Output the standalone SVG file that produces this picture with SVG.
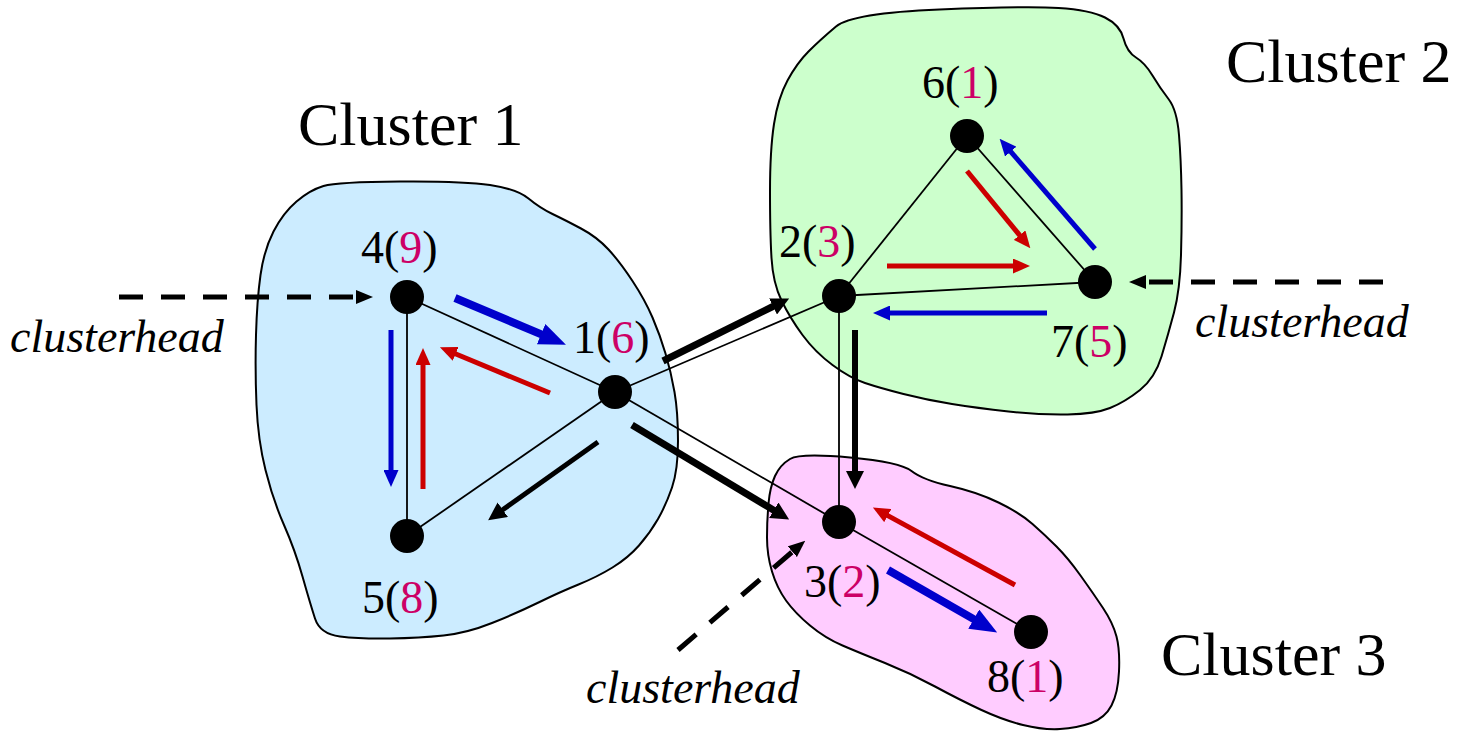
<svg xmlns="http://www.w3.org/2000/svg" width="1465" height="733" viewBox="0 0 1465 733">
  <style>
    .blob { stroke: #000; stroke-width: 2; stroke-linejoin: round; }
    .edge { stroke: #000; stroke-width: 1.8; fill: none; }
    .node { fill: #000; }
    .lbl { font-size: 46px; fill: #000; }
    .num { fill: #CC0066; }
    .title { font-size: 62px; fill: #000; }
    .ch { font-size: 46px; font-style: italic; fill: #000; }
    .blue { stroke: #0000CC; fill: none; }
    .red { stroke: #CC0000; fill: none; }
    .blk { stroke: #000; fill: none; }
    .dash { stroke: #000; stroke-width: 5; stroke-dasharray: 24 18; fill: none; }
  </style>
  <defs>
    <marker id="hBlueBig" markerUnits="userSpaceOnUse" markerWidth="27" markerHeight="22" viewBox="0 0 27 22" refX="1" refY="11" orient="auto">
      <path d="M0,0 L27,11 L0,22 Z" fill="#0000CC"/>
    </marker>
    <marker id="hBlue" markerUnits="userSpaceOnUse" markerWidth="17" markerHeight="15" viewBox="0 0 17 15" refX="1" refY="7.5" orient="auto">
      <path d="M0,0 L17,7.5 L0,15 Z" fill="#0000CC"/>
    </marker>
    <marker id="hRed" markerUnits="userSpaceOnUse" markerWidth="17" markerHeight="15" viewBox="0 0 17 15" refX="1" refY="7.5" orient="auto">
      <path d="M0,0 L17,7.5 L0,15 Z" fill="#CC0000"/>
    </marker>
    <marker id="hBlk" markerUnits="userSpaceOnUse" markerWidth="18" markerHeight="18" viewBox="0 0 18 18" refX="1" refY="9" orient="auto">
      <path d="M0,0 L18,9 L0,18 Z" fill="#000"/>
    </marker>
    <marker id="hDash" markerUnits="userSpaceOnUse" markerWidth="17" markerHeight="14" viewBox="0 0 17 14" refX="1" refY="7" orient="auto">
      <path d="M0,0 L17,7 L0,14 Z" fill="#000"/>
    </marker>
  </defs>

  <rect width="1465" height="733" fill="#fff"/>

  <g font-family="Liberation Serif, Times New Roman, serif">
  <!-- cluster regions -->
  <g id="cluster1">
    <path class="blob" fill="#CCECFF" d="M323.5,186 Q337,182 400,181.5 Q463,181 490,185 Q517,189 528.5,198.5 Q540,208 552.5,214 Q565,220 581,228.5 Q597,237 608.5,249.5 Q620,262 632.5,281 Q645,300 652.5,317.5 Q660,335 665.5,353.5 Q671,372 674.5,392 Q678,412 678,441 Q678,470 672,487.5 Q666,505 658,519 Q650,533 639,545.5 Q628,558 612.5,567.5 Q597,577 578.5,584.5 Q560,592 538.5,602.5 Q517,613 492,623 Q467,633 443.5,635.5 Q420,638 390,638.5 Q360,639 340,636.5 Q320,634 315,618.5 Q310,603 302.5,576.5 Q295,550 284,525 Q273,500 265.5,470 Q258,440 256.5,405 Q255,370 256,335 Q257,300 260.5,275 Q264,250 273.5,231.5 Q283,213 296.5,201.5 Q310,190 323.5,186 Z"/>
    <text class="title" x="298" y="145">Cluster 1</text>
  </g>
  <g id="cluster2">
    <path class="blob" fill="#CCFFCC" d="M836,26.5 Q852,13 939.5,9.5 Q1027,6 1058.5,8 Q1090,10 1105,17.5 Q1120,25 1123.5,38.5 Q1127,52 1136,57.5 Q1145,63 1152.5,75.5 Q1160,88 1168.5,99 Q1177,110 1179,135 Q1181,160 1181.5,190 Q1182,220 1181,255 Q1180,290 1174,312.5 Q1168,335 1161.5,356.5 Q1155,378 1140,390 Q1125,402 1110,408 Q1095,414 1067.5,414.5 Q1040,415 1008.5,411.5 Q977,408 952,404 Q927,400 903.5,394 Q880,388 865,383 Q850,378 832.5,365 Q815,352 802.5,335 Q790,318 781.5,300.5 Q773,283 771.5,258 Q770,233 770,191.5 Q770,150 774,124 Q778,98 787.5,80.5 Q797,63 808.5,51.5 Q820,40 836,26.5 Z"/>
    <text class="title" x="1226" y="82">Cluster 2</text>
  </g>
  <g id="cluster3">
    <path class="blob" fill="#FFCCFF" d="M790,459 Q800,453 850,457.5 Q900,462 911.5,471 Q923,480 950,486 Q977,492 998.5,502.5 Q1020,513 1032.5,524 Q1045,535 1056.5,546.5 Q1068,558 1080.5,575.5 Q1093,593 1103,608 Q1113,623 1116.5,636.5 Q1120,650 1119,671.5 Q1118,693 1111.5,705.5 Q1105,718 1091,723 Q1077,728 1060,729 Q1043,730 1023,725 Q1003,720 981.5,710 Q960,700 935,686.5 Q910,673 885,663 Q860,653 842.5,645.5 Q825,638 810,625.5 Q795,613 786,600.5 Q777,588 772,571.5 Q767,555 767,537.5 Q767,520 768.5,503.5 Q770,487 775,476 Q780,465 790,459 Z"/>
    <text class="title" x="1161" y="675">Cluster 3</text>
  </g>

  <!-- links and message arrows -->
  <g id="connectors">
    <line class="edge" x1="407" y1="297" x2="615" y2="392"/>
    <line class="edge" x1="407" y1="297" x2="407" y2="536"/>
    <line class="edge" x1="407" y1="536" x2="615" y2="392"/>
    <line class="edge" x1="615" y1="392" x2="839" y2="296"/>
    <line class="edge" x1="615" y1="392" x2="839" y2="522"/>
    <line class="edge" x1="839" y1="296" x2="967" y2="136"/>
    <line class="edge" x1="967" y1="136" x2="1095" y2="282"/>
    <line class="edge" x1="1095" y1="282" x2="839" y2="296"/>
    <line class="edge" x1="839" y1="296" x2="839" y2="522"/>
    <line class="edge" x1="839" y1="522" x2="1031" y2="632"/>

    <!-- cluster 1 -->
    <line class="blue" stroke-width="8" x1="455" y1="298" x2="542" y2="334.6" marker-end="url(#hBlueBig)"/>
    <line class="red" stroke-width="5" x1="550" y1="393" x2="454.7" y2="353.5" marker-end="url(#hRed)"/>
    <line class="blue" stroke-width="5" x1="391" y1="330" x2="391" y2="471" marker-end="url(#hBlue)"/>
    <line class="red" stroke-width="5" x1="423" y1="489" x2="423" y2="364" marker-end="url(#hRed)"/>
    <line class="blk" stroke-width="5" x1="598" y1="442" x2="502" y2="510.3" marker-end="url(#hBlk)"/>

    <!-- between clusters -->
    <line class="blk" stroke-width="7" x1="663" y1="361" x2="773.9" y2="306" marker-end="url(#hBlk)"/>
    <line class="blk" stroke-width="7" x1="632" y1="425" x2="774.6" y2="510.7" marker-end="url(#hBlk)"/>
    <line class="blk" stroke-width="6" x1="855" y1="330" x2="855" y2="472" marker-end="url(#hBlk)"/>

    <!-- cluster 2 -->
    <line class="red" stroke-width="5" x1="967" y1="171" x2="1020.2" y2="235.9" marker-end="url(#hRed)"/>
    <line class="blue" stroke-width="5" x1="1095" y1="249" x2="1010.1" y2="150.9" marker-end="url(#hBlue)"/>
    <line class="red" stroke-width="5" x1="887" y1="266" x2="1014" y2="266" marker-end="url(#hRed)"/>
    <line class="blue" stroke-width="5" x1="1047" y1="313" x2="889" y2="313" marker-end="url(#hBlue)"/>

    <!-- cluster 3 -->
    <line class="red" stroke-width="5" x1="1015" y1="585" x2="886.9" y2="515.1" marker-end="url(#hRed)"/>
    <line class="blue" stroke-width="8" x1="888" y1="570" x2="974.6" y2="619.6" marker-end="url(#hBlueBig)"/>

    <!-- clusterhead pointers -->
    <line class="dash" x1="119" y1="297" x2="357" y2="297" marker-end="url(#hDash)"/>
    <line class="dash" x1="1383" y1="282" x2="1145" y2="282" marker-end="url(#hDash)"/>
    <line class="dash" x1="678" y1="650" x2="793.1" y2="551.1" marker-end="url(#hDash)"/>
  </g>

  <!-- nodes -->
  <g id="n4"><circle class="node" cx="407" cy="297" r="17"/><text class="lbl" x="361" y="263">4(<tspan class="num">9</tspan>)</text></g>
  <g id="n1"><circle class="node" cx="615" cy="392" r="17"/><text class="lbl" x="573" y="353">1(<tspan class="num">6</tspan>)</text></g>
  <g id="n5"><circle class="node" cx="407" cy="536" r="17"/><text class="lbl" x="362" y="613">5(<tspan class="num">8</tspan>)</text></g>
  <g id="n6"><circle class="node" cx="967" cy="136" r="17"/><text class="lbl" x="922" y="98">6(<tspan class="num">1</tspan>)</text></g>
  <g id="n2"><circle class="node" cx="839" cy="296" r="17"/><text class="lbl" x="779" y="257">2(<tspan class="num">3</tspan>)</text></g>
  <g id="n7"><circle class="node" cx="1095" cy="282" r="17"/><text class="lbl" x="1051" y="357">7(<tspan class="num">5</tspan>)</text></g>
  <g id="n3"><circle class="node" cx="839" cy="522" r="17"/><text class="lbl" x="804" y="597">3(<tspan class="num">2</tspan>)</text></g>
  <g id="n8"><circle class="node" cx="1031" cy="632" r="17"/><text class="lbl" x="987" y="692">8(<tspan class="num">1</tspan>)</text></g>

  <!-- clusterhead captions -->
  <g id="captions">
    <text class="ch" x="10" y="352">clusterhead</text>
    <text class="ch" x="1195" y="337">clusterhead</text>
    <text class="ch" x="586" y="703">clusterhead</text>
  </g>
  </g>
</svg>
